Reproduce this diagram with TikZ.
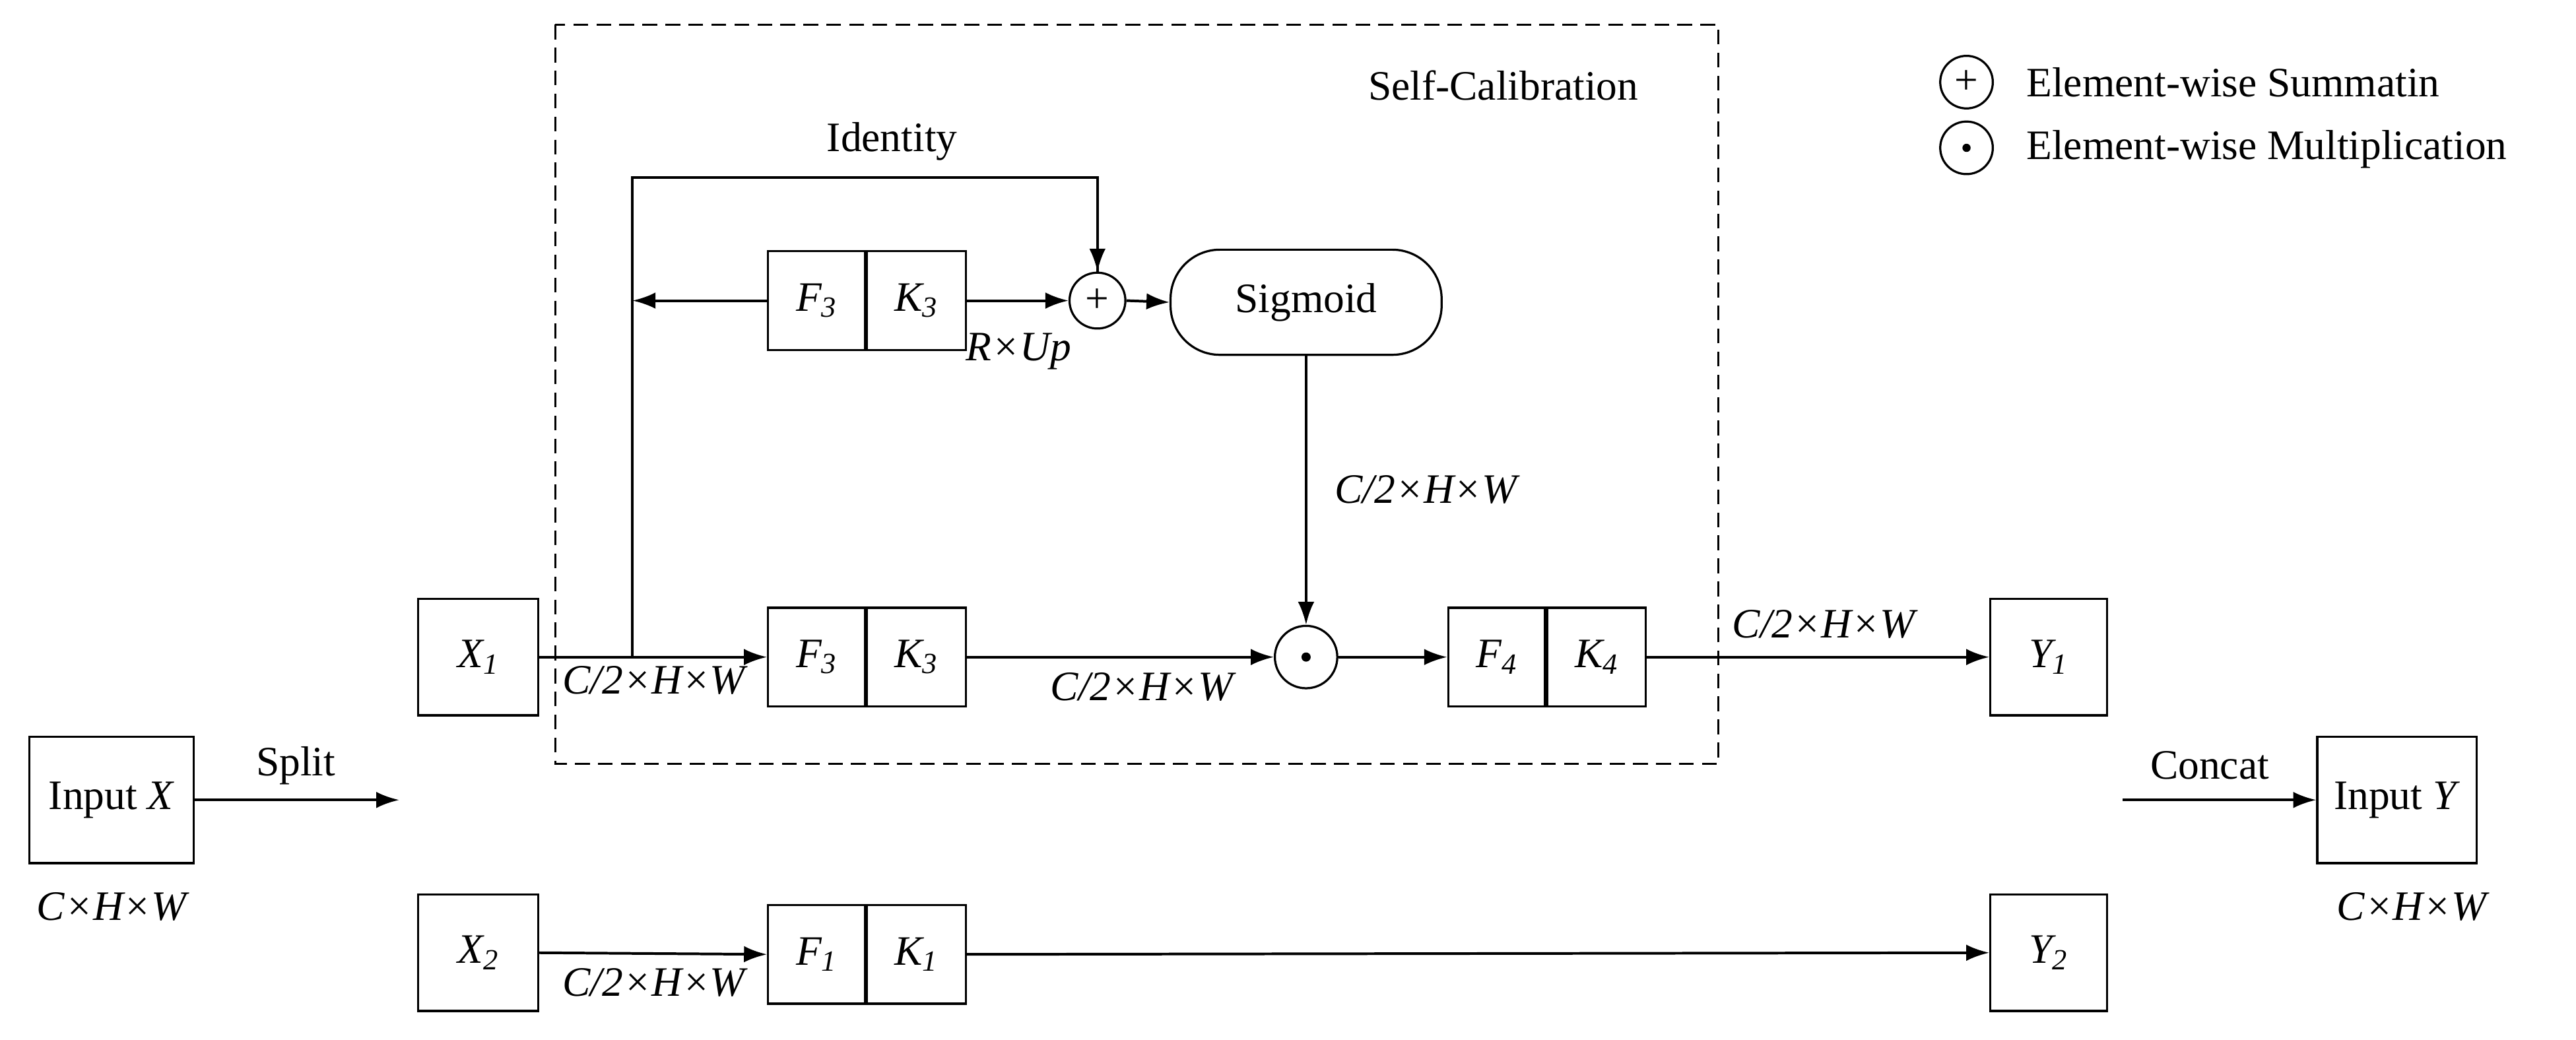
\documentclass[tikz,border=0pt]{standalone}
\usepackage{fontspec}
\setmainfont{Liberation Serif}
\usetikzlibrary{arrows.meta}
\begin{document}
\begin{tikzpicture}[x=1pt,y=-1pt,
  every node/.style={font=\fontsize{25.5}{29}\selectfont},
  box/.style={draw,line width=1.3pt,inner sep=0pt},
  ln/.style={line width=1.6pt},
  ar/.style={ln,-{Latex[length=14pt,width=10pt]}},
  lab/.style={font=\fontsize{25.5}{29}\selectfont\itshape}]
\useasboundingbox (0,0) rectangle (1568,633);
% dashed
\draw[line width=1.3pt,dash pattern=on 9pt off 5pt] (338,15) rectangle (1046,465);
\node at (915,52) {Self-Calibration};
% legend
\node[circle,draw,line width=1.3pt,minimum size=32pt,inner sep=0pt] (lp) at (1197,50) {+};
\node[anchor=west] at (1230,50) {Element-wise Summatin};
\node[circle,draw,line width=1.3pt,minimum size=32pt,inner sep=0pt] (lm) at (1197,90) {};
\fill (lm) circle (2.5pt);
\node[anchor=west] at (1230,91) {Element-wise Multiplication};
% input X
\node[box,minimum width=100pt,minimum height=77pt] (inx) at (68,487) {Input \textit{X}};
\node[lab] at (68,552) {C×H×W};
\coordinate (sp) at (243,487);
\draw[ar] (inx.east) -- (sp);
\node at (180,466) {Split};
% X1, X2
\node[box,minimum width=73pt,minimum height=71pt] (x1) at (291,400) {\textit{X\textsubscript{1}}};
\node[box,minimum width=73pt,minimum height=71pt] (x2) at (291,580) {\textit{X\textsubscript{2}}};
% blocks
\newcommand\blk[5]{%
 \node[box,minimum width=59pt,minimum height=60pt] (#1a) at (#3,#4) {\textit{#2\textsubscript{#5}}};
 \node[box,minimum width=60pt,minimum height=60pt,anchor=west] (#1b) at (#1a.east) {\textit{K\textsubscript{#5}}};}
\blk{t}{F}{497}{183}{3}
\blk{m}{F}{497}{400}{3}
\blk{f}{F}{911}{400}{4}
\blk{b}{F}{497}{581}{1}
% plus, sigmoid, dot
\node[circle,draw,line width=1.3pt,minimum size=34pt,inner sep=0pt] (pl) at (668,183) {+};
\node[draw,line width=1.3pt,rounded corners=30pt,minimum width=165pt,minimum height=64pt] (sig) at (795,184) {Sigmoid};
\node[circle,draw,line width=1.3pt,minimum size=38pt,inner sep=0pt] (dt) at (795,400) {};
\fill (dt) circle (2.8pt);
% Y
\node[box,minimum width=71pt,minimum height=71pt] (y1) at (1247,400) {\textit{Y\textsubscript{1}}};
\node[box,minimum width=71pt,minimum height=71pt] (y2) at (1247,580) {\textit{Y\textsubscript{2}}};
\coordinate (cc) at (1292,487);
\node[box,minimum width=97pt,minimum height=77pt] (iny) at (1459,487) {Input \textit{Y}};
\draw[ar] (cc) -- (iny.west);
\node at (1345,466) {Concat};
\node[lab] at (1468,552) {C×H×W};
% connectors
\coordinate (br) at (385,400);
\coordinate (tl) at (385,183);
\draw[ar] (x1.east) -- (ma.west);
\draw[ln] (br) -- (385,108) -| (pl.north);
\draw[ar] (385,108) -| (pl.north);
\node at (543,86) {Identity};
\draw[ar] (ta.west) -- (tl);
\draw[ar] (tb.east) -- (pl.west);
\node[lab] at (620,214) {R×Up};
\draw[ar] (pl.east) -- (sig.west);
\draw[ar] (sig.south) -- (dt.north);
\node[lab] at (868,298) {C/2×H×W};
\draw[ar] (mb.east) -- (dt.west);
\node[lab] at (695,418) {C/2×H×W};
\node[lab] at (398,414) {C/2×H×W};
\draw[ar] (dt.east) -- (fa.west);
\draw[ar] (fb.east) -- (y1.west);
\node[lab] at (1110,380) {C/2×H×W};
\draw[ar] (x2.east) -- (ba.west);
\node[lab] at (398,598) {C/2×H×W};
\draw[ar] (bb.east) -- (y2.west);
\end{tikzpicture}
\end{document}
